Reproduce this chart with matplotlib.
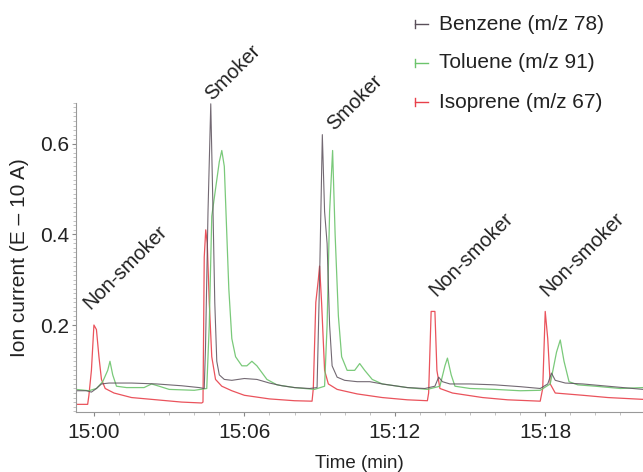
import numpy as np
import matplotlib
matplotlib.use("Agg")
import matplotlib.pyplot as plt
from matplotlib.lines import Line2D
from matplotlib.ticker import MultipleLocator

''' Data (minutes after 15:00, ion current) '''
benzene_t = [-0.72, -0.3, -0.1, 0.1, 0.3, 0.6, 1.5, 2.5, 3.5, 4.2, 4.4, 4.45, 4.55, 4.66,
             4.75, 4.82, 4.9, 5.0, 5.2, 5.5, 6.0, 6.5, 7.0, 7.5, 8.0, 8.6, 8.9, 9.0, 9.11,
             9.2, 9.3, 9.4, 9.5, 9.7, 10.0, 10.5, 11.0, 11.5, 12.0, 12.5, 13.2, 13.6, 13.75,
             13.9, 14.2, 15.0, 16.0, 17.0, 17.8, 18.1, 18.25, 18.4, 18.8, 19.5, 20.5, 21.9]
benzene_y = [0.055, 0.055, 0.052, 0.06, 0.07, 0.072, 0.072, 0.07, 0.066, 0.062, 0.06, 0.15,
             0.45, 0.688, 0.45, 0.25, 0.12, 0.09, 0.08, 0.078, 0.082, 0.08, 0.072, 0.066,
             0.062, 0.06, 0.062, 0.3, 0.62, 0.45, 0.38, 0.2, 0.11, 0.085, 0.078, 0.075,
             0.075, 0.07, 0.066, 0.062, 0.06, 0.065, 0.085, 0.075, 0.07, 0.07, 0.068, 0.064,
             0.06, 0.07, 0.094, 0.078, 0.072, 0.07, 0.065, 0.058]

toluene_t = [-0.72, -0.2, 0.1, 0.35, 0.55, 0.64, 0.75, 0.9, 1.3, 2.0, 2.3, 2.6, 3.0, 4.0,
             4.5, 4.6, 4.7, 4.85, 5.0, 5.1, 5.2, 5.3, 5.38, 5.5, 5.65, 5.9, 6.1, 6.3, 6.5,
             6.7, 6.9, 7.3, 8.0, 8.8, 9.2, 9.3, 9.4, 9.52, 9.62, 9.75, 9.88, 10.1, 10.4,
             10.6, 10.8, 11.1, 11.5, 12.5, 13.3, 13.8, 14.0, 14.1, 14.25, 14.4, 15.0, 16.0,
             17.0, 17.8, 18.2, 18.45, 18.6, 18.75, 18.95, 19.3, 20.0, 21.0, 21.9]
toluene_y = [0.058, 0.055, 0.06, 0.075, 0.10, 0.12, 0.09, 0.065, 0.062, 0.062, 0.07, 0.065,
             0.058, 0.056, 0.06, 0.2, 0.44, 0.5, 0.56, 0.585, 0.55, 0.40, 0.28, 0.17, 0.13,
             0.11, 0.11, 0.12, 0.11, 0.095, 0.08, 0.068, 0.062, 0.058, 0.065, 0.2, 0.45,
             0.585, 0.40, 0.22, 0.13, 0.10, 0.10, 0.115, 0.10, 0.08, 0.07, 0.062, 0.058,
             0.065, 0.11, 0.127, 0.09, 0.065, 0.06, 0.058, 0.055, 0.056, 0.07, 0.14, 0.167,
             0.12, 0.075, 0.068, 0.065, 0.06, 0.062]

isoprene_t = [-0.72, -0.25, -0.2, -0.1, 0.0, 0.1, 0.2, 0.3, 0.45, 0.8, 1.5, 2.5, 3.5, 4.3,
              4.35, 4.4, 4.46, 4.52, 4.6, 4.7, 4.85, 5.1, 5.5, 6.0, 7.0, 8.0, 8.7, 8.75,
              8.85, 8.95, 9.0, 9.08, 9.2, 9.35, 9.7, 10.5, 11.5, 12.5, 13.3, 13.35, 13.45,
              13.6, 13.68, 13.8, 14.3, 15.5, 16.5, 17.8, 17.9, 18.0, 18.1, 18.2, 18.4, 19.5,
              20.5, 21.9]
isoprene_y = [0.025, 0.025, 0.045, 0.10, 0.20, 0.19, 0.13, 0.08, 0.06, 0.05, 0.04, 0.035,
              0.03, 0.028, 0.03, 0.35, 0.41, 0.38, 0.25, 0.13, 0.08, 0.065, 0.055, 0.045,
              0.037, 0.033, 0.032, 0.06, 0.25, 0.30, 0.33, 0.25, 0.10, 0.07, 0.058, 0.048,
              0.04, 0.035, 0.033, 0.05, 0.23, 0.23, 0.10, 0.06, 0.05, 0.04, 0.035, 0.032,
              0.06, 0.23, 0.17, 0.07, 0.05, 0.045, 0.04, 0.036]

xticks = [0, 6, 12, 18]
xtick_labels = ["15:00", "15:06", "15:12", "15:18"]

labels = ["Benzene (m/z 78)", "Toluene (m/z 91)", "Isoprene (m/z 67)"]
colors = ["#5a4f5a", "#6cc46c", "#e8404a"]

notes = [("Non-smoker", 1.24, 0.328), ("Smoker", 5.54, 0.756), ("Smoker", 10.4, 0.69),
         ("Non-smoker", 15.06, 0.357), ("Non-smoker", 19.48, 0.357)]

''' Plot '''
plt.rcParams["font.family"] = ["Liberation Sans", "DejaVu Sans"]
fig = plt.figure(figsize=(6.43, 4.72), dpi=100)
ax = fig.add_axes([0.118, 0.127, 0.882, 0.655])

ax.plot(isoprene_t, isoprene_y, color=colors[2], lw=0.9, alpha=0.9)
ax.plot(toluene_t, toluene_y, color=colors[1], lw=0.9, alpha=0.9)
ax.plot(benzene_t, benzene_y, color=colors[0], lw=0.8, alpha=0.85)

ax.set_xlim(-0.72, 21.9)
ax.set_ylim(0.008, 0.69)
ax.set_xticks(xticks)
ax.set_xticklabels(xtick_labels)
ax.xaxis.set_minor_locator(MultipleLocator(1))
ax.set_yticks([0.2, 0.4, 0.6])
ax.yaxis.set_minor_locator(MultipleLocator(0.01))

for side in ["top", "right"]:
    ax.spines[side].set_visible(False)
for side in ["left", "bottom"]:
    ax.spines[side].set_color("#999999")
    ax.spines[side].set_linewidth(0.8)

ax.tick_params(axis="both", which="major", labelsize=15, length=3, width=0.8,
               colors="#888888", labelcolor="#222222")
ax.tick_params(axis="x", which="major", pad=5)
ax.tick_params(axis="y", which="major", pad=2)
ax.tick_params(axis="both", which="minor", color="#aaaaaa", length=2, width=0.5)

ax.set_xlabel("Time (min)", fontsize=13.5, color="#222222")
ax.xaxis.set_label_coords(0.5, -0.139)
ax.set_ylabel("Ion current (E – 10 A)", fontsize=15, color="#222222")
ax.yaxis.set_label_coords(-0.083, 0.5)

for txt, x, y in notes:
    ax.text(x, y, txt, rotation=45, ha="center", va="center", fontsize=14.5,
            color="#222222", clip_on=False)

# legend drawn by hand: short line with a tick at its left end
for i, (lab, col) in enumerate(zip(labels, colors)):
    y = 1 - (24 + 39 * i) / 472
    x0, x1 = 415 / 643, 428 / 643
    fig.add_artist(Line2D([x0, x1], [y, y], color=col, lw=1.0, transform=fig.transFigure))
    fig.add_artist(Line2D([x0, x0], [y - 4 / 472, y + 4 / 472], color=col, lw=1.0,
                          transform=fig.transFigure))
    fig.text(439 / 643, y, lab, fontsize=15, va="center", ha="left", color="#222222")

plt.savefig("out.png", dpi=100)
